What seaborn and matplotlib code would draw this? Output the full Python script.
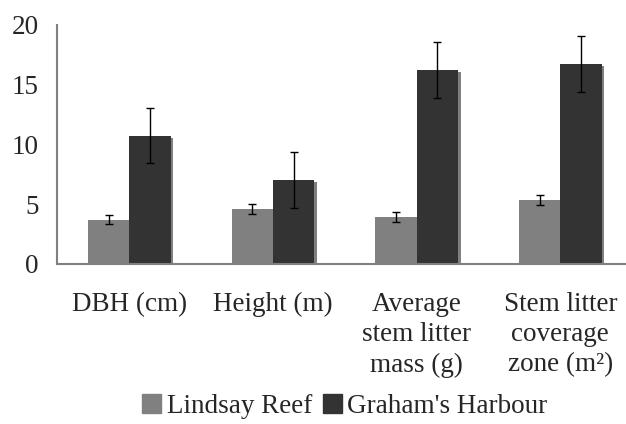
import pandas as pd
import matplotlib
matplotlib.use("Agg")
import matplotlib.pyplot as plt
import matplotlib.patheffects as pe
import seaborn as sns

categories = ["DBH (cm)", "Height (m)", "Average\nstem litter\nmass (g)",
              "Stem litter\ncoverage\nzone (m\u00b2)"]
sites = ["Lindsay Reef", "Graham's Harbour"]
lindsay = [3.7, 4.6, 3.9, 5.35]
lindsay_err = [0.38, 0.4, 0.42, 0.4]
graham = [10.7, 7.0, 16.2, 16.7]
graham_err = [2.3, 2.35, 2.33, 2.33]
colors = ["#808080", "#333333"]

df = pd.DataFrame({
    "category": categories * 2,
    "site": [sites[0]] * 4 + [sites[1]] * 4,
    "value": lindsay + graham,
})

sns.set_style("white")
plt.rcParams["font.family"] = ["Liberation Serif", "DejaVu Serif"]

fig = plt.figure(figsize=(6.26, 4.24), dpi=100)
ax = fig.add_axes([0.0918, 0.3774, 0.918, 0.5643])

sns.barplot(data=df, x="category", y="value", hue="site", order=categories,
            hue_order=sites, palette=colors, width=0.575, errorbar=None,
            legend=False, saturation=1, ax=ax)

shadow = [pe.SimplePatchShadow(offset=(2, -1.5), shadow_rgbFace="#808080", alpha=1), pe.Normal()]
for cont, err in zip(ax.containers, [lindsay_err, graham_err]):
    xs, ys = [], []
    for bar in cont:
        bar.set_path_effects(shadow)
        bar.set_edgecolor("none")
        xs.append(bar.get_x() + bar.get_width() / 2)
        ys.append(bar.get_height())
    ax.errorbar(xs, ys, yerr=err, fmt="none", ecolor="black", elinewidth=1,
                capsize=3, capthick=1, zorder=5)

ax.set_xlim(-0.5, 3.5)
ax.set_ylim(0, 20)
ax.set_yticks([0, 5, 10, 15, 20])
ax.set_xticks([-0.5, 0.5, 1.5, 2.5, 3.5], minor=True)
ax.set_xlabel("")
ax.set_ylabel("")
ax.tick_params(axis="x", which="major", length=0, pad=20, labelsize=19.5)
ax.tick_params(axis="x", which="minor", length=5.5, width=1, color="black", direction="out")
ax.tick_params(axis="y", length=6.5, width=1, color="#808080", direction="out", pad=7, labelsize=19.5)
for lab in ax.get_xticklabels():
    lab.set_linespacing(1.28)
    lab.set_verticalalignment("top")
for s in ["top", "right"]:
    ax.spines[s].set_visible(False)
for s in ["left", "bottom"]:
    ax.spines[s].set_color("#808080")
    ax.spines[s].set_linewidth(1.5)
ax.grid(False)

handles = [plt.Rectangle((0, 0), 1, 1, color=c) for c in colors]
fig.legend(handles, sites, loc="lower center", bbox_to_anchor=(0.551, -0.045), ncol=2,
           frameon=False, fontsize=19.5, handlelength=0.7, handleheight=0.7,
           handletextpad=0.2, columnspacing=0.4)

fig.savefig("out.png", dpi=100)
